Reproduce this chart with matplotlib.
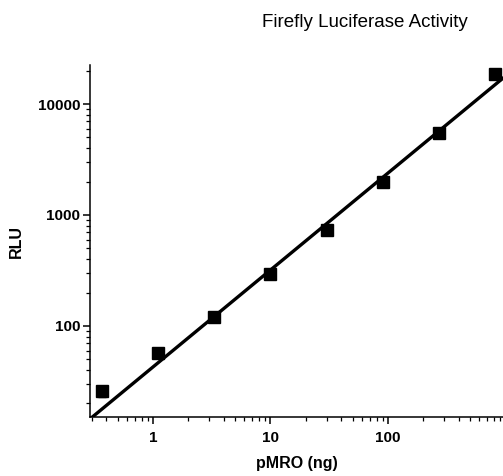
import numpy as np
import matplotlib
matplotlib.use('Agg')
from matplotlib import pyplot as plt
from matplotlib.ticker import LogLocator, NullFormatter, FixedLocator, FixedFormatter

plt.rcParams['font.family'] = ['Liberation Sans', 'DejaVu Sans']

# pMRO (ng) and measured RLU
dna_ng = [0.37, 1.1, 3.3, 10, 30, 90, 270, 810]
rlu = [26, 57, 120, 295, 730, 1990, 5500, 18600]
rlu_err = [3, 5, 8, 15, 40, 80, 250, 700]

# fitted line in log10 space: log(y) = intercept + slope * log(x)
fit_slope = 0.874
fit_intercept = 1.63

x_ticks = [1, 10, 100]
x_tick_labels = ['1', '10', '100']
y_ticks = [100, 1000, 10000]
y_tick_labels = ['100', '1000', '10000']

fig = plt.figure(figsize=(5.03, 4.76), dpi=100)
ax = fig.add_axes([0.179, 0.124, 0.821, 0.739])

xlim = (0.291, 953)
ylim = (15.1, 22400)

xf = np.logspace(np.log10(xlim[0]), np.log10(xlim[1]), 50)
yf = 10 ** (fit_intercept + fit_slope * np.log10(xf))
ax.plot(xf, yf, color='black', lw=2.4, zorder=2)

ax.errorbar(dna_ng, rlu, yerr=rlu_err, fmt='s', color='black', ms=8,
            elinewidth=1, capsize=3, zorder=3, clip_on=False)

ax.set_xscale('log')
ax.set_yscale('log')
ax.set_xlim(*xlim)
ax.set_ylim(*ylim)

ax.xaxis.set_major_locator(FixedLocator(x_ticks))
ax.xaxis.set_major_formatter(FixedFormatter(x_tick_labels))
ax.yaxis.set_major_locator(FixedLocator(y_ticks))
ax.yaxis.set_major_formatter(FixedFormatter(y_tick_labels))
for a in (ax.xaxis, ax.yaxis):
    a.set_minor_locator(LogLocator(base=10, subs=np.arange(2, 10), numticks=20))
    a.set_minor_formatter(NullFormatter())

for s in ('top', 'right'):
    ax.spines[s].set_visible(False)
for s in ('left', 'bottom'):
    ax.spines[s].set_linewidth(1.1)

ax.tick_params(which='major', direction='out', length=5, width=1.1,
               labelsize=11, pad=2)
ax.tick_params(axis='x', which='major', pad=5)
ax.tick_params(which='minor', direction='out', length=3, width=0.9)
for lab in ax.get_xticklabels() + ax.get_yticklabels():
    lab.set_fontweight('bold')

ax.set_xlabel('pMRO (ng)', fontsize=11.5, fontweight='bold', labelpad=8)
ax.set_ylabel('RLU', fontsize=11.5, fontweight='bold')
ax.yaxis.set_label_coords(-0.16, 0.5)

fig.text(0.726, 0.953, 'Firefly Luciferase Activity', fontsize=13.5,
         ha='center', va='center')

fig.savefig('out.png', dpi=100)
